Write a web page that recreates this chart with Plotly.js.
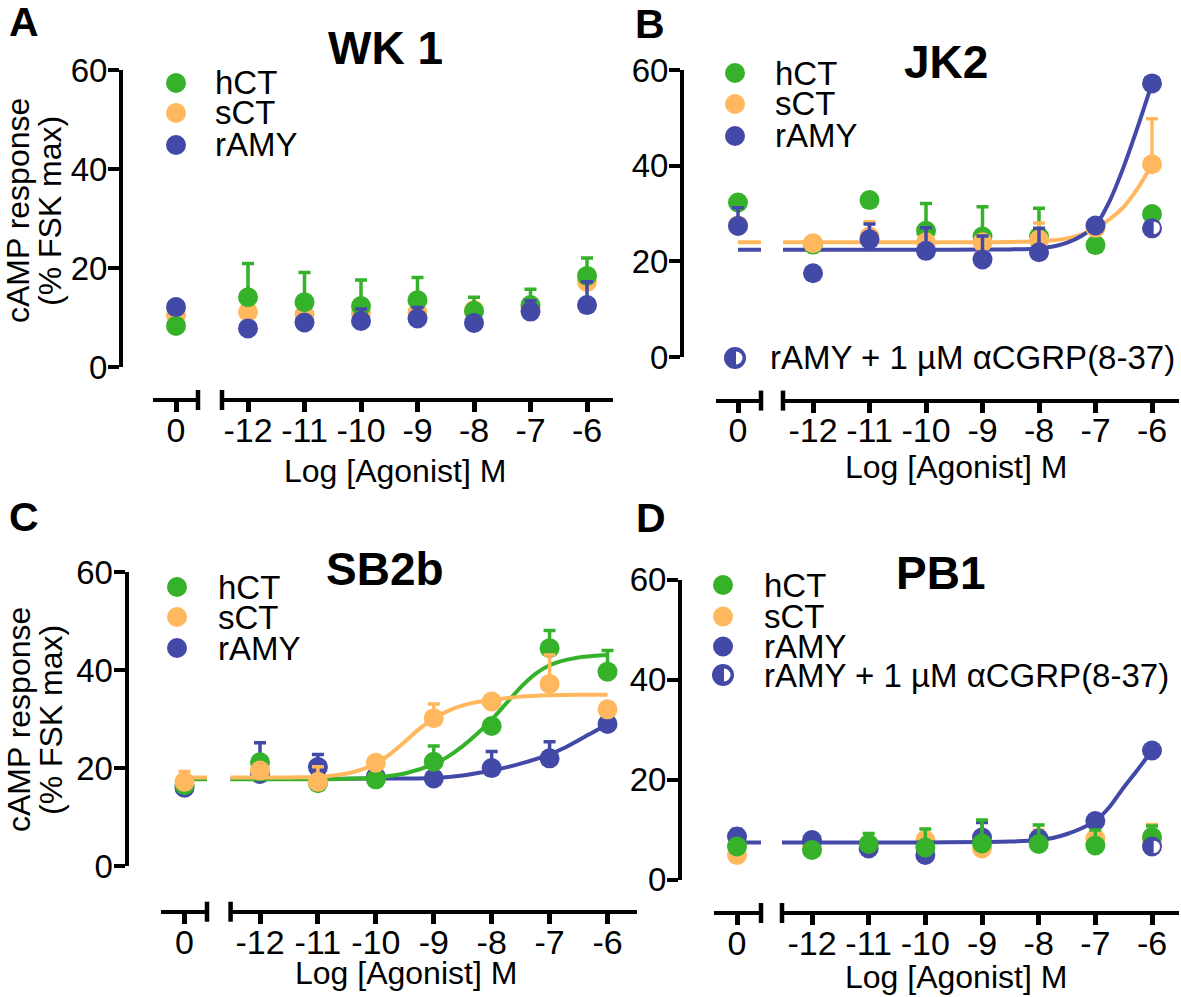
<!DOCTYPE html>
<html><head><meta charset="utf-8">
<script src="https://cdn.plot.ly/plotly-3.0.1.min.js"></script>
<style>html,body{margin:0;padding:0;background:#fff}#chart{width:1181px;height:997px}</style>
</head><body><div id="chart"></div>
<script>
// ================= DATA =================
const doseX = [-12, -11, -10, -9, -8, -7, -6];
const doseLabels = ['-12', '-11', '-10', '-9', '-8', '-7', '-6'];
const basalX = [0];
const basalLabels = ['0'];
const yTicks = [0, 20, 40, 60];
const seriesNames = ['hCT', 'sCT', 'rAMY'];
const antagName = 'rAMY + 1 µM αCGRP(8-37)';
const panelTitles = ['WK 1', 'JK2', 'SB2b', 'PB1'];
const panelLetters = ['A', 'B', 'C', 'D'];
const xTitle = 'Log [Agonist] M';
const yTitle1 = 'cAMP response';
const yTitle2 = '(% FSK max)';

// Panel A (WK 1)
const A_hCT_basal = [8.3];
const A_hCT = [14.1, 13.1, 12.3, 13.5, 11.3, 12.5, 18.4];
const A_hCT_err = [6.8, 6.0, 5.3, 4.6, 2.8, 3.2, 3.6];
const A_sCT_basal = [10.5];
const A_sCT = [11.1, 10.6, 10.8, 11.0, 11.5, 12.0, 17.2];
const A_sCT_err = [0, 0, 0, 0, 0, 0, 0];
const A_rAMY_basal = [12.1];
const A_rAMY = [7.8, 9.0, 9.3, 9.8, 8.9, 11.2, 12.5];
const A_rAMY_err = [0, 0, 2.4, 2.2, 0, 2.2, 4.7];

// Panel B (JK2)
const B_hCT_basal = [32.3];
const B_hCT = [23.5, 32.8, 26.4, 25.2, 25.2, 23.4, 29.9];
const B_hCT_err = [0, 0, 5.7, 6.2, 5.9, 0, 0];
const B_sCT_basal = [27.5];
const B_sCT = [23.8, 25.2, 24.0, 24.0, 24.5, 27.0, 40.3];
const B_sCT_err = [0, 3.1, 0, 0, 3.5, 0, 9.5];
const B_rAMY_basal = [27.4];
const B_rAMY_basal_err = [3.8];
const B_rAMY = [17.5, 24.6, 22.2, 20.4, 21.9, 27.5, 57.2];
const B_rAMY_err = [0, 3.2, 4.8, 4.9, 5.0, 0, 0];
const B_antagX = [-6];
const B_antag = [26.9];
// fitted curves
const B_sCT_fitBasal = [24.0];
const B_sCT_fitX = [-12.6, -11, -10, -9, -8.5, -8, -7.75, -7.5, -7.25, -7, -6.75, -6.5, -6.25, -6];
const B_sCT_fitY = [24.0, 24.0, 24.0, 24.0, 24.05, 24.2, 24.4, 24.8, 25.6, 26.9, 28.8, 31.4, 35.3, 40.3];
const B_rAMY_fitBasal = [22.4];
const B_rAMY_fitX = [-12.6, -11, -10, -9, -8.5, -8, -7.75, -7.5, -7.25, -7, -6.75, -6.5, -6.25, -6];
const B_rAMY_fitY = [22.4, 22.4, 22.4, 22.45, 22.5, 22.7, 23.1, 23.9, 25.3, 27.5, 32.6, 39.8, 48.2, 57.2];

// Panel C (SB2b)
const C_hCT_basal = [16.5];
const C_hCT = [21.2, 16.9, 17.7, 21.3, 28.6, 44.5, 39.7];
const C_hCT_err = [0, 0, 0, 3.2, 0, 3.6, 4.3];
const C_sCT_basal = [17.2];
const C_sCT_basal_err = [2.1];
const C_sCT = [19.5, 17.2, 21.1, 30.2, 33.6, 37.2, 32.0];
const C_sCT_err = [0, 3.1, 0, 2.9, 0, 5.9, 0];
const C_rAMY_basal = [16.0];
const C_rAMY = [18.8, 20.2, 18.2, 17.9, 20.0, 22.0, 29.0];
const C_rAMY_err = [6.4, 2.6, 0, 0, 3.4, 3.4, 0];
const C_sCT_fitBasal = [18.1];
const C_sCT_fitX = [-12.6, -11.5, -11, -10.5, -10.25, -10, -9.75, -9.5, -9.25, -9, -8.75, -8.5, -8.25, -8, -7.5, -7, -6.5, -6];
const C_sCT_fitY = [18.1, 18.1, 18.2, 18.9, 19.7, 20.9, 22.9, 25.4, 28.0, 30.1, 31.7, 32.8, 33.5, 33.9, 34.6, 34.9, 35.0, 35.0];
const C_hCT_fitBasal = [17.7];
const C_hCT_fitX = [-12.6, -11, -10.5, -10, -9.5, -9, -8.75, -8.5, -8.25, -8, -7.75, -7.5, -7.25, -7, -6.75, -6.5, -6.25, -6];
const C_hCT_fitY = [17.7, 17.7, 17.8, 18.1, 18.9, 20.8, 22.4, 24.5, 27.0, 29.9, 33.2, 36.5, 39.2, 41.0, 42.0, 42.6, 42.9, 43.1];
const C_rAMY_fitBasal = [17.8];
const C_rAMY_fitX = [-12.6, -11, -10, -9, -8.5, -8, -7.5, -7, -6.75, -6.5, -6.25, -6];
const C_rAMY_fitY = [17.8, 17.8, 17.85, 18.0, 18.5, 19.5, 20.9, 22.8, 24.1, 25.7, 27.3, 29.0];

// Panel D (PB1)
const D_hCT_basal = [6.6];
const D_hCT = [5.9, 7.1, 6.4, 7.2, 7.1, 6.8, 8.5];
const D_hCT_err = [0, 2.1, 3.7, 4.7, 3.8, 3.1, 2.2];
const D_sCT_basal = [4.9];
const D_sCT = [6.5, 7.0, 7.9, 6.2, 7.9, 8.2, 8.0];
const D_sCT_err = [0, 0, 0, 0, 2.0, 2.5, 3.0];
const D_rAMY_basal = [8.6];
const D_rAMY_basal_err = [1.4];
const D_rAMY = [7.9, 6.2, 4.9, 8.4, 8.2, 11.7, 25.8];
const D_rAMY_err = [0, 0, 0, 3.0, 0, 0, 0];
const D_antagX = [-6];
const D_antag = [6.6];
const D_rAMY_fitBasal = [7.4];
const D_rAMY_fitX = [-12.6, -10, -9, -8.5, -8, -7.75, -7.5, -7.25, -7, -6.75, -6.5, -6.25, -6];
const D_rAMY_fitY = [7.4, 7.4, 7.5, 7.6, 7.9, 8.3, 9.1, 10.2, 11.7, 14.5, 18.4, 22.0, 25.8];

// ================= STYLE / LAYOUT =================
const W = 1181, H = 997;
const FONT = 'Liberation Sans, Arial, Helvetica, sans-serif';
const GREEN = '#36b22a', ORANGE = '#ffb85e', BLUE = '#4249a7';
const px = v => v / W;
const py = v => 1 - v / H;

const P = [
  {yx: 121, y0: 367, y60: 70, xy: 400, s1: [153, 198], t0: 176, s2: [222, 613], t12: 248, t6: 587,
   letter: [24, 22], title: [385, 48], xt: [395, 471], yt: [18, 50, 211],
   leg: {x: 176, tx: 213, ys: [83, 113, 145]}},
  {yx: 682, y0: 357, y60: 70, xy: 400.6, s1: [715.5, 761], t0: 738, s2: [783, 1179], t12: 813, t6: 1152,
   letter: [650, 23.5], title: [946, 62], xt: [956, 467], yt: null,
   leg: {x: 735, tx: 773, ys: [73, 104, 136], extra: [358, 768]}},
  {yx: 126.5, y0: 866, y60: 572.3, xy: 911.7, s1: [161, 207], t0: 184.5, s2: [230.6, 637], t12: 260, t6: 607.5,
   letter: [24, 517], title: [385, 569], xt: [406, 973], yt: [19, 51, 720],
   leg: {x: 177, tx: 216, ys: [587, 617, 648]}},
  {yx: 680, y0: 879.5, y60: 579.5, xy: 913, s1: [714, 761], t0: 737, s2: [782, 1179], t12: 812, t6: 1152,
   letter: [651, 517.5], title: [940, 573], xt: [956, 977], yt: null,
   leg: {x: 723, tx: 762, ys: [585, 616.5, 646.5], extra: [675, 762]}}
];

const layout = {
  width: W, height: H, margin: {l: 0, r: 0, t: 0, b: 0},
  paper_bgcolor: '#fff', plot_bgcolor: 'rgba(0,0,0,0)',
  showlegend: false, font: {family: FONT, color: '#000'},
  shapes: [], annotations: []
};
const traces = [];

P.forEach((p, i) => {
  const unit = (p.t6 - p.t12) / 6;
  const r1 = [(p.s1[0] - p.t0) / unit, (p.s1[1] - p.t0) / unit];
  const r2 = [-12 + (p.s2[0] - p.t12) / unit, -6 + (p.s2[1] - p.t6) / unit];
  p.r1 = r1; p.r2 = r2;
  const xa1 = 2 * i + 1, xa2 = 2 * i + 2, ya = i + 1;
  p.xa1 = 'x' + xa1; p.xa2 = 'x' + xa2; p.ya = 'y' + ya;
  const xbase = {
    anchor: 'free', position: py(p.xy), showline: true, linewidth: 4, linecolor: '#000',
    ticks: 'outside', ticklen: 10, tickwidth: 5, tickcolor: '#000', showgrid: false, zeroline: false,
    tickfont: {size: 34, family: FONT, color: '#000'}, fixedrange: true, ticklabelstandoff: -11
  };
  layout['xaxis' + xa1] = Object.assign({}, xbase, {domain: [px(p.s1[0]), px(p.s1[1])], range: r1,
    tickmode: 'array', tickvals: basalX, ticktext: basalLabels});
  layout['xaxis' + xa2] = Object.assign({}, xbase, {domain: [px(p.s2[0]), px(p.s2[1])], range: r2,
    tickmode: 'array', tickvals: doseX, ticktext: doseLabels});
  layout['yaxis' + (ya === 1 ? '' : ya)] = {
    anchor: 'free', position: px(p.yx), domain: [py(p.y0), py(p.y60)], range: [0, 60],
    showline: true, linewidth: 4, linecolor: '#000', ticks: 'outside', ticklen: 11, tickwidth: 4,
    tickcolor: '#000', tickmode: 'array', tickvals: yTicks, showgrid: false, zeroline: false,
    tickfont: {size: 33, family: FONT, color: '#000'}, fixedrange: true, ticklabelstandoff: -6
  };
  // break caps
  [p.s1[1], p.s2[0]].forEach(xx => layout.shapes.push({type: 'line', xref: 'paper', yref: 'paper',
    x0: px(xx), x1: px(xx), y0: py(p.xy - 10), y1: py(p.xy + 10), line: {color: '#000', width: 4.5}}));
  // letter, title, axis titles
  layout.annotations.push({xref: 'paper', yref: 'paper', x: px(p.letter[0]), y: py(p.letter[1]),
    xanchor: 'center', yanchor: 'middle', showarrow: false, text: '<b>' + panelLetters[i] + '</b>',
    font: {size: 41, family: FONT}});
  layout.annotations.push({xref: 'paper', yref: 'paper', x: px(p.title[0]), y: py(p.title[1]),
    xanchor: 'center', yanchor: 'middle', showarrow: false, text: '<b>' + panelTitles[i] + '</b>',
    font: {size: 46, family: FONT}});
  layout.annotations.push({xref: 'paper', yref: 'paper', x: px(p.xt[0]), y: py(p.xt[1]),
    xanchor: 'center', yanchor: 'middle', showarrow: false, text: xTitle, font: {size: 32, family: FONT}});
  if (p.yt) {
    [[yTitle1, p.yt[0]], [yTitle2, p.yt[1]]].forEach(([t, xx]) => layout.annotations.push({
      xref: 'paper', yref: 'paper', x: px(xx), y: py(p.yt[2]), xanchor: 'center', yanchor: 'middle',
      showarrow: false, text: t, textangle: -90, font: {size: 32, family: FONT}}));
  }
  // legend
  const cols = [GREEN, ORANGE, BLUE];
  p.leg.ys.forEach((yy, k) => {
    layout.shapes.push({type: 'circle', xref: 'paper', yref: 'paper', x0: px(p.leg.x - 10), x1: px(p.leg.x + 10),
      y0: py(yy + 10), y1: py(yy - 10), fillcolor: cols[k], line: {width: 0}});
    layout.annotations.push({xref: 'paper', yref: 'paper', x: px(p.leg.tx), y: py(yy), xanchor: 'left',
      yanchor: 'middle', showarrow: false, text: seriesNames[k], font: {size: 33, family: FONT}});
  });
  if (p.leg.extra) {
    const yy = p.leg.extra[0], cx = p.leg.x;
    layout.shapes.push({type: 'circle', xref: 'paper', yref: 'paper', x0: px(cx - 11), x1: px(cx + 11),
      y0: py(yy + 11), y1: py(yy - 11), fillcolor: BLUE, line: {width: 0}});
    layout.shapes.push({type: 'circle', xref: 'paper', yref: 'paper', x0: px(cx + 1 - 6.5), x1: px(cx + 1 + 6.5),
      y0: py(yy + 6.5), y1: py(yy - 6.5), fillcolor: '#fff', line: {width: 0}});
    layout.shapes.push({type: 'rect', xref: 'paper', yref: 'paper', x0: px(cx - 6), x1: px(cx + 1),
      y0: py(yy + 7), y1: py(yy - 7), fillcolor: BLUE, line: {width: 0}});
    layout.annotations.push({xref: 'paper', yref: 'paper', x: px(p.leg.extra[1]), y: py(yy), xanchor: 'left',
      yanchor: 'middle', showarrow: false, text: antagName, font: {size: 33, family: FONT}});
  }
});

function errObj(arr, color) {
  return {type: 'data', symmetric: false, array: arr, arrayminus: arr.map(() => 0),
    color: color, thickness: 3.5, width: 6};
}
function points(p, seg, xs, ys, errs, color) {
  const t = {type: 'scatter', mode: 'markers', x: xs, y: ys, xaxis: seg === 1 ? p.xa1 : p.xa2, yaxis: p.ya,
    marker: {size: 20, color: color, line: {width: 0}}, cliponaxis: false, hoverinfo: 'skip'};
  if (errs) t.error_y = errObj(errs, color);
  return t;
}
function series(p, bx, by, bErr, xs, ys, errs, color) {
  traces.push(points(p, 1, bx, by, bErr, color));
  traces.push(points(p, 2, xs, ys, errs, color));
}
function curve(p, basal, xs, ys, color) {
  traces.push({type: 'scatter', mode: 'lines', x: [basalX[0], p.r1[1] + 1], y: [basal[0], basal[0]],
    xaxis: p.xa1, yaxis: p.ya, line: {color: color, width: 4}, hoverinfo: 'skip'});
  traces.push({type: 'scatter', mode: 'lines', x: xs, y: ys, xaxis: p.xa2, yaxis: p.ya,
    line: {color: color, width: 4, shape: 'spline', smoothing: 0.8}, hoverinfo: 'skip'});
}
function antag(p, xs, ys) {
  traces.push(points(p, 2, xs, ys, null, BLUE));
  traces.push({type: 'scatter', mode: 'text', x: xs, y: ys, xaxis: p.xa2, yaxis: p.ya, text: xs.map(() => '◗'),
    textposition: 'middle right', textfont: {family: 'DejaVu Sans', size: 16, color: '#fff'},
    marker: {size: 0}, cliponaxis: false, hoverinfo: 'skip'});
}

// Panel A
series(P[0], basalX, A_sCT_basal, null, doseX, A_sCT, A_sCT_err, ORANGE);
series(P[0], basalX, A_hCT_basal, null, doseX, A_hCT, A_hCT_err, GREEN);
series(P[0], basalX, A_rAMY_basal, null, doseX, A_rAMY, A_rAMY_err, BLUE);
// Panel B
curve(P[1], B_sCT_fitBasal, B_sCT_fitX, B_sCT_fitY, ORANGE);
curve(P[1], B_rAMY_fitBasal, B_rAMY_fitX, B_rAMY_fitY, BLUE);
series(P[1], basalX, B_hCT_basal, null, doseX, B_hCT, B_hCT_err, GREEN);
series(P[1], basalX, B_sCT_basal, null, doseX, B_sCT, B_sCT_err, ORANGE);
series(P[1], basalX, B_rAMY_basal, B_rAMY_basal_err, doseX, B_rAMY, B_rAMY_err, BLUE);
antag(P[1], B_antagX, B_antag);
// Panel C
curve(P[2], C_rAMY_fitBasal, C_rAMY_fitX, C_rAMY_fitY, BLUE);
series(P[2], basalX, C_rAMY_basal, null, doseX, C_rAMY, C_rAMY_err, BLUE);
curve(P[2], C_hCT_fitBasal, C_hCT_fitX, C_hCT_fitY, GREEN);
series(P[2], basalX, C_hCT_basal, null, doseX, C_hCT, C_hCT_err, GREEN);
curve(P[2], C_sCT_fitBasal, C_sCT_fitX, C_sCT_fitY, ORANGE);
series(P[2], basalX, C_sCT_basal, C_sCT_basal_err, doseX, C_sCT, C_sCT_err, ORANGE);
// Panel D
series(P[3], basalX, D_sCT_basal, null, doseX, D_sCT, D_sCT_err, ORANGE);
curve(P[3], D_rAMY_fitBasal, D_rAMY_fitX, D_rAMY_fitY, BLUE);
series(P[3], basalX, D_rAMY_basal, D_rAMY_basal_err, doseX, D_rAMY, D_rAMY_err, BLUE);
series(P[3], basalX, D_hCT_basal, null, doseX, D_hCT, D_hCT_err, GREEN);
antag(P[3], D_antagX, D_antag);

Plotly.newPlot('chart', traces, layout, {displayModeBar: false, staticPlot: true});
</script></body></html>
